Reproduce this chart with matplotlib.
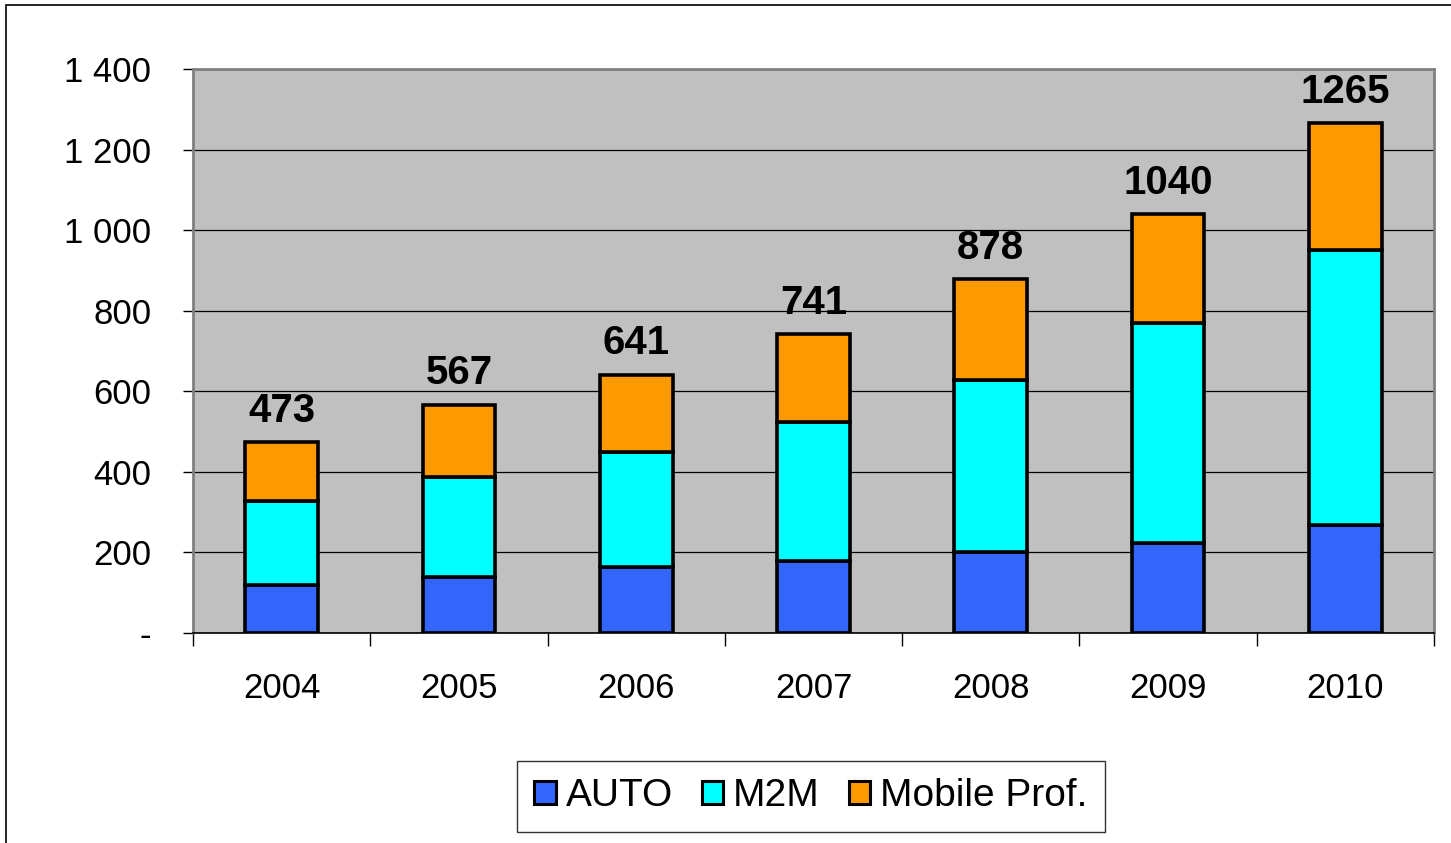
import numpy as np
import matplotlib
matplotlib.use("Agg")
import matplotlib.pyplot as plt
from matplotlib.patches import Rectangle
from matplotlib.ticker import FixedLocator

plt.rcParams['font.family'] = ['Liberation Sans', 'DejaVu Sans']

# data
years = ["2004", "2005", "2006", "2007", "2008", "2009", "2010"]
auto = [120, 140, 164, 179, 201, 223, 268]
m2m = [208, 247, 285, 345, 427, 546, 683]
totals = [473, 567, 641, 741, 878, 1040, 1265]
mobile = [t - a - m for t, a, m in zip(totals, auto, m2m)]
yticks = [0, 200, 400, 600, 800, 1000, 1200, 1400]
ytick_labels = ["-", "200", "400", "600", "800", "1 000", "1 200", "1 400"]

fig = plt.figure(figsize=(14.51, 8.43), dpi=100)
# outer chart frame (only top/left visible in the original)
fig.patches.append(Rectangle((6 / 1451, -0.05), 1.1, 1 - 5 / 843 + 0.05,
                             transform=fig.transFigure, fill=False,
                             edgecolor="black", linewidth=1.2))

ax = fig.add_axes([193 / 1451, 1 - 633 / 843, (1434 - 193) / 1451, (633 - 69) / 843])
ax.set_facecolor("#C0C0C0")

x = np.arange(len(years))
w = 0.41
kw = dict(width=w, edgecolor="black", linewidth=2.6, zorder=3)
ax.bar(x, auto, color="#3366FF", label="AUTO", **kw)
ax.bar(x, m2m, bottom=auto, color="#00FFFF", label="M2M", **kw)
ax.bar(x, mobile, bottom=np.array(auto) + np.array(m2m), color="#FF9900",
       label="Mobile Prof.", **kw)

for xi, t in zip(x, totals):
    ax.annotate(str(t), (xi, t), xytext=(0, 9), textcoords="offset points",
                ha="center", va="bottom", fontsize=29, fontweight="bold")

ax.set_xlim(-0.5, len(years) - 0.5)
ax.set_ylim(0, 1400)
ax.set_yticks(yticks)
ax.set_yticklabels(ytick_labels, fontsize=25)
ax.yaxis.grid(True, color="black", linewidth=0.9, zorder=1)
ax.set_axisbelow(True)

ax.set_xticks(x)
ax.set_xticklabels(years, fontsize=25)
ax.xaxis.set_minor_locator(FixedLocator(np.arange(-0.5, len(years), 1.0)))
ax.tick_params(axis="x", which="major", length=0, pad=28)
ax.tick_params(axis="x", which="minor", length=9, width=1, color="black")
ax.tick_params(axis="y", length=7, width=1, pad=23)

for side in ["top", "right", "left"]:
    ax.spines[side].set_color("#808080")
    ax.spines[side].set_linewidth(2)
ax.spines["bottom"].set_linewidth(1.2)

leg = fig.legend(loc="center", bbox_to_anchor=(811 / 1451, 1 - 796 / 843),
                 ncol=3, fontsize=28, frameon=True, fancybox=False,
                 handlelength=0.55, handleheight=0.55, handletextpad=0.25,
                 columnspacing=0.75, borderpad=0.45, borderaxespad=0)
leg.get_frame().set_edgecolor("black")
leg.get_frame().set_linewidth(1)
for h in leg.legend_handles:
    h.set_linewidth(2.2)

fig.savefig("out.png", dpi=100)
